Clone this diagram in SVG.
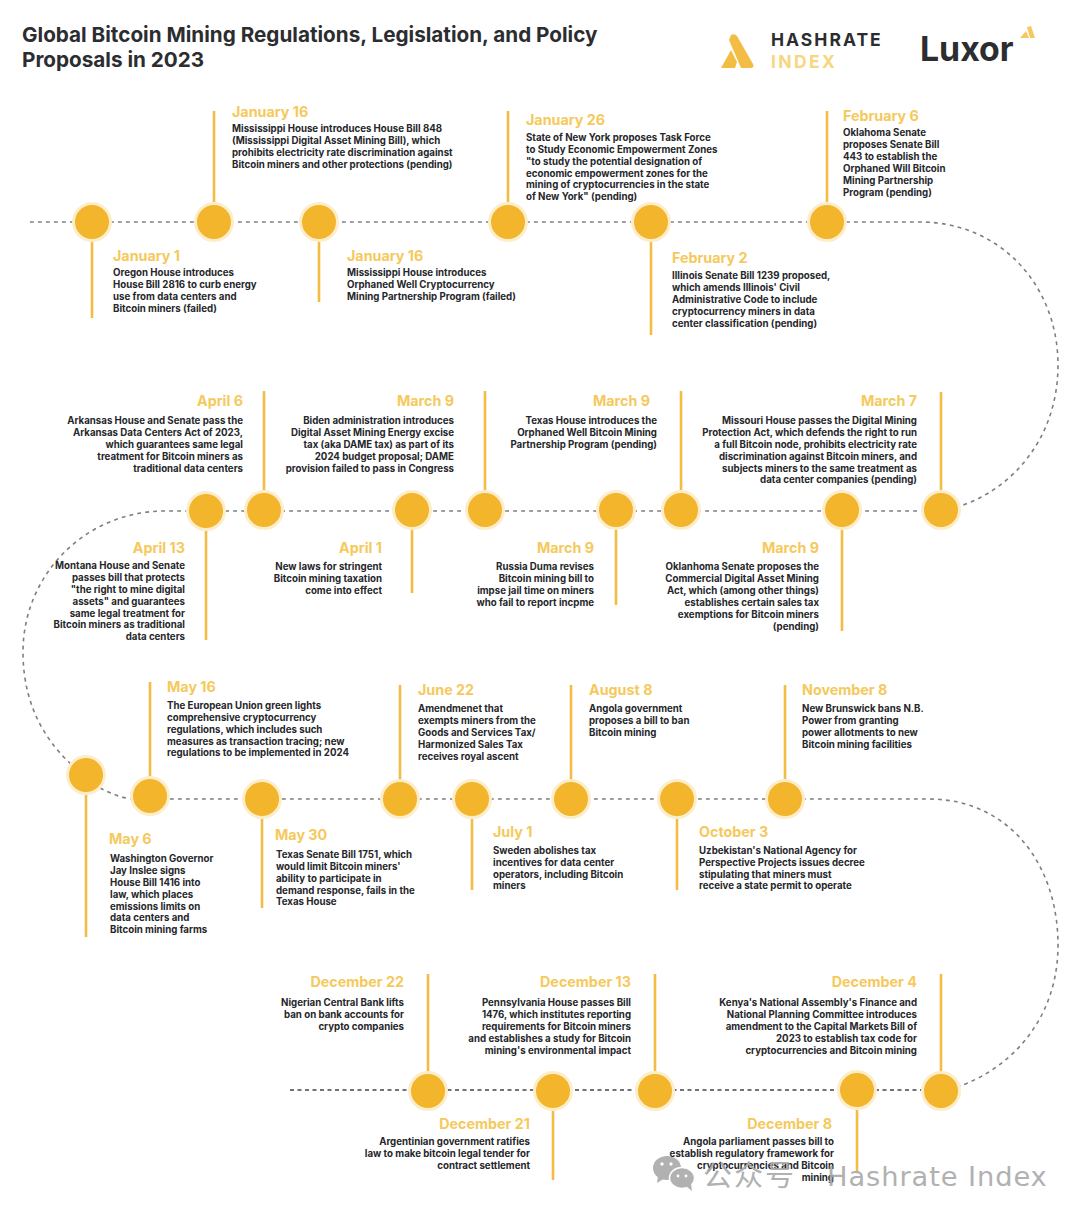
<svg xmlns="http://www.w3.org/2000/svg" width="1080" height="1218" viewBox="0 0 1080 1218">
<style>
text{font-family:Inter,"Liberation Sans",sans-serif}
.t{font-size:20.7px;font-weight:700;fill:#2b2d30}
.d{font-size:14.3px;font-weight:700;fill:#f5c95c}
.b{font-size:9.7px;font-weight:700;fill:#26272b}
.r{text-anchor:end}
.s{stroke:#f3bd45;stroke-width:2.6;fill:none}
.c{fill:#f2b52c;stroke:#fdeecb;stroke-width:3}
.l{stroke:#7c7f82;stroke-width:1.6;stroke-dasharray:3.8 4.2;fill:none}
.k{stroke:#44464a;stroke-width:1.3;stroke-dasharray:4 3.5;fill:none}
.w{fill:#a9a9a9}
</style>
<rect width="1080" height="1218" fill="#fff"/>
<g id="title"><text class="t" x="22" y="42">Global Bitcoin Mining Regulations, Legislation, and Policy</text><text class="t" x="22" y="67">Proposals in 2023</text></g>
<g id="logo-hashrate"><path d="M721 68L731 50L737 62L735 68Z M731 35Q735 33 737 36L753 64Q755 68 750 68L741 68L729 40Z" fill="#f3bd45"/><text x="771" y="46" font-size="17.5" font-weight="700" letter-spacing="2" fill="#2b2d30">HASHRATE</text><text x="771" y="68" font-size="17.5" font-weight="700" letter-spacing="2.4" fill="#f7d680">INDEX</text></g>
<g id="logo-luxor"><text x="920" y="61" font-size="33.8" font-weight="700" fill="#2b2d30">Luxor</text><path d="M1020 38L1026 31L1029 38Z M1027 27L1031 26L1035 38L1030 38Z" fill="#f5c95c"/></g>
<g id="connectors">
<path class="l" d="M30 222H920C1000 222 1058 285 1058 365C1058 440 1010 490 960 506"/>
<path class="l" d="M941 511H165C85 511 23 575 23 652C23 710 50 745 72 765"/>
<path class="l" d="M100 788C112 794 122 798 132 799H930C1010 800 1058 865 1058 945C1058 1020 1010 1068 960 1086"/>
<path class="k" d="M290 1090H941"/>
<g>
<path class="s" d="M92 222V318M214 111V222M319 222V302M508 111V222M651 222V335M827 111V222"/>
<path class="s" d="M941 392V510M842 510V631M681 391V510M616 510V605M485 391V510M412 510V593M264 391V510M206 510V640"/>
<path class="s" d="M86 775V937M150 682V796M262 799V908M400 685V799M472 799V890M571 685V799M677 799V890M785 685V799"/>
<path class="s" d="M941 974V1090M857 1090V1172M655 974V1090M553 1090V1180M428 974V1090"/>
</g>
</g>
<g id="n-jan1"><circle class="c" cx="92" cy="222" r="18.5"/><text class="d" x="113" y="261">January 1</text><text class="b" x="113" y="276">Oregon House introduces</text><text class="b" x="113" y="288">House Bill 2816 to curb energy</text><text class="b" x="113" y="300">use from data centers and</text><text class="b" x="113" y="312">Bitcoin miners (failed)</text></g>
<g id="n-jan16a"><circle class="c" cx="214" cy="222" r="18.5"/><text class="d" x="232" y="117">January 16</text><text class="b" x="232" y="132">Mississippi House introduces House Bill 848</text><text class="b" x="232" y="144">(Mississippi Digital Asset Mining Bill), which</text><text class="b" x="232" y="156">prohibits electricity rate discrimination against</text><text class="b" x="232" y="168">Bitcoin miners and other protections (pending)</text></g>
<g id="n-jan16b"><circle class="c" cx="319" cy="222" r="18.5"/><text class="d" x="347" y="261">January 16</text><text class="b" x="347" y="276">Mississippi House introduces</text><text class="b" x="347" y="288">Orphaned Well Cryptocurrency</text><text class="b" x="347" y="300">Mining Partnership Program (failed)</text></g>
<g id="n-jan26"><circle class="c" cx="508" cy="222" r="18.5"/><text class="d" x="526" y="125">January 26</text><text class="b" x="526" y="141">State of New York proposes Task Force</text><text class="b" x="526" y="153">to Study Economic Empowerment Zones</text><text class="b" x="526" y="165">"to study the potential designation of</text><text class="b" x="526" y="177">economic empowerment zones for the</text><text class="b" x="526" y="188">mining of cryptocurrencies in the state</text><text class="b" x="526" y="200">of New York" (pending)</text></g>
<g id="n-feb2"><circle class="c" cx="651" cy="222" r="18.5"/><text class="d" x="672" y="263">February 2</text><text class="b" x="672" y="279">Illinois Senate Bill 1239 proposed,</text><text class="b" x="672" y="291">which amends Illinois' Civil</text><text class="b" x="672" y="303">Administrative Code to include</text><text class="b" x="672" y="315">cryptocurrency miners in data</text><text class="b" x="672" y="327">center classification (pending)</text></g>
<g id="n-feb6"><circle class="c" cx="827" cy="222" r="18.5"/><text class="d" x="843" y="121">February 6</text><text class="b" x="843" y="136">Oklahoma Senate</text><text class="b" x="843" y="148">proposes Senate Bill</text><text class="b" x="843" y="160">443 to establish the</text><text class="b" x="843" y="172">Orphaned Will Bitcoin</text><text class="b" x="843" y="184">Mining Partnership</text><text class="b" x="843" y="196">Program (pending)</text></g>
<g id="n-mar7"><circle class="c" cx="941" cy="510" r="18.5"/><text class="d r" x="917" y="406">March 7</text><text class="b r" x="917" y="424">Missouri House passes the Digital Mining</text><text class="b r" x="917" y="436">Protection Act, which defends the right to run</text><text class="b r" x="917" y="448">a full Bitcoin node, prohibits electricity rate</text><text class="b r" x="917" y="460">discrimination against Bitcoin miners, and</text><text class="b r" x="917" y="472">subjects miners to the same treatment as</text><text class="b r" x="917" y="483">data center companies (pending)</text></g>
<g id="n-mar9a"><circle class="c" cx="842" cy="510" r="18.5"/><text class="d r" x="819" y="553">March 9</text><text class="b r" x="819" y="570">Oklanhoma Senate proposes the</text><text class="b r" x="819" y="582">Commercial Digital Asset Mining</text><text class="b r" x="819" y="594">Act, which (among other things)</text><text class="b r" x="819" y="606">establishes certain sales tax</text><text class="b r" x="819" y="618">exemptions for Bitcoin miners</text><text class="b r" x="819" y="630">(pending)</text></g>
<g id="n-mar9b"><circle class="c" cx="681" cy="510" r="18.5"/><text class="d r" x="650" y="406">March 9</text><text class="b r" x="657" y="424">Texas House introduces the</text><text class="b r" x="657" y="436">Orphaned Well Bitcoin Mining</text><text class="b r" x="657" y="448">Partnership Program (pending)</text></g>
<g id="n-mar9c"><circle class="c" cx="616" cy="510" r="18.5"/><text class="d r" x="594" y="553">March 9</text><text class="b r" x="594" y="570">Russia Duma revises</text><text class="b r" x="594" y="582">Bitcoin mining bill to</text><text class="b r" x="594" y="594">impse jail time on miners</text><text class="b r" x="594" y="606">who fail to report incpme</text></g>
<g id="n-mar9d"><circle class="c" cx="485" cy="510" r="18.5"/><text class="d r" x="454" y="406">March 9</text><text class="b r" x="454" y="424">Biden administration introduces</text><text class="b r" x="454" y="436">Digital Asset Mining Energy excise</text><text class="b r" x="454" y="448">tax (aka DAME tax) as part of its</text><text class="b r" x="454" y="460">2024 budget proposal; DAME</text><text class="b r" x="454" y="472">provision failed to pass in Congress</text></g>
<g id="n-apr1"><circle class="c" cx="412" cy="510" r="18.5"/><text class="d r" x="382" y="553">April 1</text><text class="b r" x="382" y="570">New laws for stringent</text><text class="b r" x="382" y="582">Bitcoin mining taxation</text><text class="b r" x="382" y="594">come into effect</text></g>
<g id="n-apr6"><circle class="c" cx="264" cy="510" r="18.5"/><text class="d r" x="243" y="406">April 6</text><text class="b r" x="243" y="424">Arkansas House and Senate pass the</text><text class="b r" x="243" y="436">Arkansas Data Centers Act of 2023,</text><text class="b r" x="243" y="448">which guarantees same legal</text><text class="b r" x="243" y="460">treatment for Bitcoin miners as</text><text class="b r" x="243" y="472">traditional data centers</text></g>
<g id="n-apr13"><circle class="c" cx="206" cy="511" r="18.5"/><text class="d r" x="185" y="553">April 13</text><text class="b r" x="185" y="569">Montana House and Senate</text><text class="b r" x="185" y="581">passes bill that protects</text><text class="b r" x="185" y="593">"the right to mine digital</text><text class="b r" x="185" y="605">assets" and guarantees</text><text class="b r" x="185" y="617">same legal treatment for</text><text class="b r" x="185" y="628">Bitcoin miners as traditional</text><text class="b r" x="185" y="640">data centers</text></g>
<g id="n-may6"><circle class="c" cx="86" cy="775" r="18.5"/><text class="d" x="109" y="844">May 6</text><text class="b" x="110" y="862">Washington Governor</text><text class="b" x="110" y="874">Jay Inslee signs</text><text class="b" x="110" y="886">House Bill 1416 into</text><text class="b" x="110" y="898">law, which places</text><text class="b" x="110" y="910">emissions limits on</text><text class="b" x="110" y="921">data centers and</text><text class="b" x="110" y="933">Bitcoin mining farms</text></g>
<g id="n-may16"><circle class="c" cx="150" cy="796" r="18.5"/><text class="d" x="167" y="692">May 16</text><text class="b" x="167" y="709">The European Union green lights</text><text class="b" x="167" y="721">comprehensive cryptocurrency</text><text class="b" x="167" y="733">regulations, which includes such</text><text class="b" x="167" y="745">measures as transaction tracing; new</text><text class="b" x="167" y="756">regulations to be implemented in 2024</text></g>
<g id="n-may30"><circle class="c" cx="262" cy="799" r="18.5"/><text class="d" x="275" y="840">May 30</text><text class="b" x="276" y="858">Texas Senate Bill 1751, which</text><text class="b" x="276" y="870">would limit Bitcoin miners'</text><text class="b" x="276" y="882">ability to participate in</text><text class="b" x="276" y="894">demand response, fails in the</text><text class="b" x="276" y="905">Texas House</text></g>
<g id="n-jun22"><circle class="c" cx="400" cy="799" r="18.5"/><text class="d" x="418" y="695">June 22</text><text class="b" x="418" y="712">Amendmenet that</text><text class="b" x="418" y="724">exempts miners from the</text><text class="b" x="418" y="736">Goods and Services Tax/</text><text class="b" x="418" y="748">Harmonized Sales Tax</text><text class="b" x="418" y="760">receives royal ascent</text></g>
<g id="n-jul1"><circle class="c" cx="472" cy="799" r="18.5"/><text class="d" x="493" y="837">July 1</text><text class="b" x="493" y="854">Sweden abolishes tax</text><text class="b" x="493" y="866">incentives for data center</text><text class="b" x="493" y="878">operators, including Bitcoin</text><text class="b" x="493" y="889">miners</text></g>
<g id="n-aug8"><circle class="c" cx="571" cy="799" r="18.5"/><text class="d" x="589" y="695">August 8</text><text class="b" x="589" y="712">Angola government</text><text class="b" x="589" y="724">proposes a bill to ban</text><text class="b" x="589" y="736">Bitcoin mining</text></g>
<g id="n-oct3"><circle class="c" cx="677" cy="799" r="18.5"/><text class="d" x="699" y="837">October 3</text><text class="b" x="699" y="854">Uzbekistan's National Agency for</text><text class="b" x="699" y="866">Perspective Projects issues decree</text><text class="b" x="699" y="878">stipulating that miners must</text><text class="b" x="699" y="889">receive a state permit to operate</text></g>
<g id="n-nov8"><circle class="c" cx="785" cy="799" r="18.5"/><text class="d" x="802" y="695">November 8</text><text class="b" x="802" y="712">New Brunswick bans N.B.</text><text class="b" x="802" y="724">Power from granting</text><text class="b" x="802" y="736">power allotments to new</text><text class="b" x="802" y="748">Bitcoin mining facilities</text></g>
<g id="n-dec4"><circle class="c" cx="941" cy="1091" r="18.5"/><text class="d r" x="917" y="987">December 4</text><text class="b r" x="917" y="1006">Kenya's National Assembly's Finance and</text><text class="b r" x="917" y="1018">National Planning Committee introduces</text><text class="b r" x="917" y="1030">amendment to the Capital Markets Bill of</text><text class="b r" x="917" y="1042">2023 to establish tax code for</text><text class="b r" x="917" y="1054">cryptocurrencies and Bitcoin mining</text></g>
<g id="n-dec8"><circle class="c" cx="857" cy="1090" r="18.5"/><text class="d r" x="832" y="1129">December 8</text><text class="b r" x="834" y="1145">Angola parliament passes bill to</text><text class="b r" x="834" y="1157">establish regulatory framework for</text><text class="b r" x="834" y="1169">cryptocurrencies and Bitcoin</text><text class="b r" x="834" y="1181">mining</text></g>
<g id="n-dec13"><circle class="c" cx="655" cy="1091" r="18.5"/><text class="d r" x="631" y="987">December 13</text><text class="b r" x="631" y="1006">Pennsylvania House passes Bill</text><text class="b r" x="631" y="1018">1476, which institutes reporting</text><text class="b r" x="631" y="1030">requirements for Bitcoin miners</text><text class="b r" x="631" y="1042">and establishes a study for Bitcoin</text><text class="b r" x="631" y="1054">mining's environmental impact</text></g>
<g id="n-dec21"><circle class="c" cx="553" cy="1091" r="18.5"/><text class="d r" x="530" y="1129">December 21</text><text class="b r" x="530" y="1145">Argentinian government ratifies</text><text class="b r" x="530" y="1157">law to make bitcoin legal tender for</text><text class="b r" x="530" y="1169">contract settlement</text></g>
<g id="n-dec22"><circle class="c" cx="428" cy="1091" r="18.5"/><text class="d r" x="404" y="987">December 22</text><text class="b r" x="404" y="1006">Nigerian Central Bank lifts</text><text class="b r" x="404" y="1018">ban on bank accounts for</text><text class="b r" x="404" y="1030">crypto companies</text></g>
<g id="watermark" opacity=".9">
<ellipse class="w" cx="667" cy="1168" rx="14" ry="12"/><path class="w" d="M658 1176L657 1183L665 1178Z"/><circle cx="662" cy="1164" r="1.7" fill="#fff"/><circle cx="671" cy="1164" r="1.7" fill="#fff"/>
<ellipse class="w" cx="682" cy="1178" rx="12.5" ry="10.5" stroke="#fff" stroke-width="1.5"/><path class="w" d="M686 1186L692 1191L691 1183Z"/><circle cx="678" cy="1176" r="1.4" fill="#fff"/><circle cx="686" cy="1176" r="1.4" fill="#fff"/>
<text x="703" y="1186" font-size="29" letter-spacing="2" fill="#a9a9a9" style="font-family:'Noto Sans CJK SC',sans-serif">公众号</text><text x="827" y="1186" font-size="27.3" letter-spacing=".9" fill="#a9a9a9" style="font-family:'DejaVu Sans',sans-serif">Hashrate Index</text></g>
</svg>
